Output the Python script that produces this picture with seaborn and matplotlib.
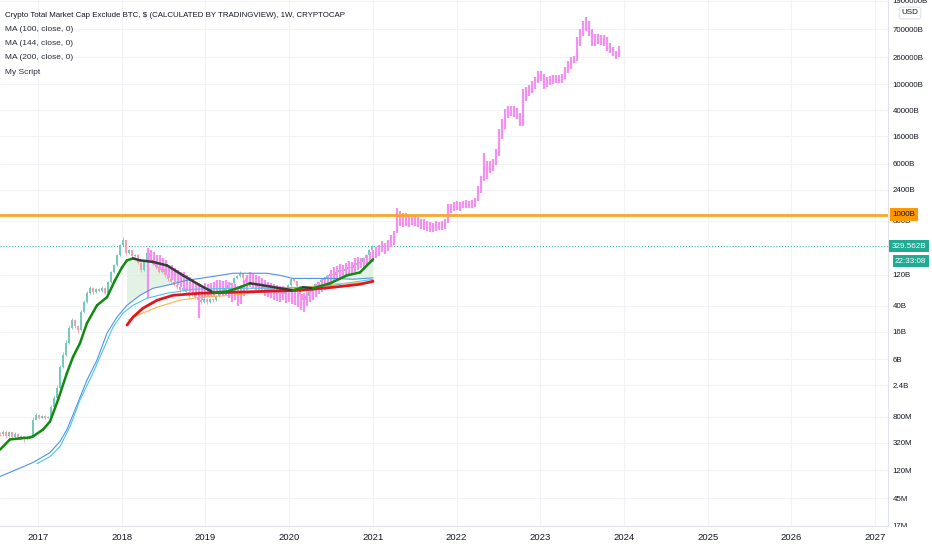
import numpy as np
import pandas as pd
import matplotlib
matplotlib.use("Agg")
import matplotlib.pyplot as plt
import seaborn as sns
from matplotlib.patches import Rectangle
from matplotlib.ticker import NullLocator

# --- candles (market cap, billions USD) ---
real_start = 2016.546
pink_start = 2018.314
bar_step = 0.03584  # years between drawn bars

real_first_open = 0.44
real_close = [0.425, 0.472, 0.397, 0.456, 0.383, 0.44, 0.37, 0.397, 0.357, 0.383,
              0.397, 0.718, 0.855, 0.770, 0.825, 0.770, 0.80, 1.13, 1.55, 2.20,
              4.61, 7.01, 10.7, 18.2, 24.1, 19.5, 16.9, 31.9, 45.3, 62.2,
              74.2, 64.4, 71.6, 66.7, 74.2, 62.2, 91.6, 130, 166, 237,
              336, 401, 254, 282, 228, 237, 179, 140, 185, 254,
              199, 172, 155, 130, 145, 117, 102, 91.6, 82.4, 76.8,
              69.1, 74.2, 64.4, 57.9, 62.2, 54.0, 48.6, 45.3, 50.3, 45.3,
              50.3, 48.6, 55.9, 62.2, 66.7, 71.6, 82.4, 88.4, 105, 113,
              126, 105, 91.6, 88.4, 82.4, 85.4, 76.8, 71.6, 76.8, 69.1,
              74.2, 66.7, 62.2, 64.4, 60.0, 69.1, 82.4, 102, 94.9, 79.6,
              60.0, 48.6, 55.9, 66.7, 74.2, 85.4, 91.6, 98.3, 102, 113,
              121, 117, 130, 140, 135, 145, 155, 150, 166, 179,
              185, 213, 237, 282, 325]
real_high = [.47, .50, .49, .48, .47, .46, .45, .42, .41, .40,
             .42, .78, .92, .89, .86, .84, .83, 1.2, 1.65, 2.4,
             5.0, 7.8, 12, 20, 26, 25, 20.5, 34, 49, 67,
             80, 77, 76, 74, 79, 76, 97, 138, 176, 250,
             360, 446, 410, 300, 290, 250, 245, 185, 195, 270,
             260, 205, 180, 160, 152, 150, 121, 105, 95, 85,
             79, 77, 76, 66, 64, 64, 56, 50, 52, 52,
             52, 52, 58, 64, 69, 74, 86, 92, 110, 118,
             135, 128, 107, 95, 90, 88, 87, 79, 79, 78,
             76, 75, 68, 66, 66, 71, 85, 106, 104, 96,
             81, 62, 58, 69, 77, 88, 95, 102, 106, 117,
             126, 124, 134, 145, 143, 150, 160, 158, 171, 185,
             192, 220, 245, 292, 345]
real_low = [.40, .41, .38, .39, .37, .37, .35, .36, .33, .35,
            .37, .39, .70, .74, .75, .74, .75, .78, 1.1, 1.5,
            2.1, 4.4, 6.8, 10.4, 17.5, 18, 15.5, 16.5, 31, 44,
            60, 61, 62, 64, 65, 60, 61, 88, 126, 160,
            230, 325, 240, 245, 220, 222, 172, 130, 136, 180,
            192, 165, 148, 125, 126, 112, 97, 88, 79, 73,
            66, 67, 62, 55, 56, 51, 46, 42, 44, 43,
            44, 46, 47, 54, 60, 64, 70, 80, 86, 102,
            110, 100, 88, 85, 79, 80, 74, 69, 70, 67,
            68, 64, 60, 61, 57, 59, 68, 80, 92, 77,
            57, 40, 47, 55, 65, 73, 84, 90, 96, 100,
            110, 114, 115, 128, 132, 133, 142, 147, 148, 163,
            176, 182, 208, 232, 275]

# "My Script" projection bars
pink_high = [303, 282, 263, 237, 237, 213, 199, 166, 166, 150,
             140, 130, 130, 117, 109, 98.3, 91.6, 88.4, 82.4, 88.4,
             85.4, 88.4, 91.6, 98.3, 98.3, 94.9, 98.3, 91.6, 88.4, 85.4,
             79.6, 82.4, 98.3, 117, 130, 126, 117, 113, 105, 98.3,
             91.6, 88.4, 85.4, 82.4, 79.6, 79.6, 74.2, 74.2, 69.1, 69.1,
             64.4, 60.0, 62.2, 64.4, 69.1, 76.8, 85.4, 91.6, 102, 109,
             117, 140, 155, 161, 172, 166, 179, 192, 185, 213,
             221, 213, 213, 237, 263, 282, 313, 336, 387, 361,
             401, 478, 570, 1240, 1150, 1070, 1040, 966, 1000, 966,
             932, 869, 869, 810, 782, 755, 810, 782, 810, 869,
             1470, 1470, 1580, 1640, 1580, 1640, 1690, 1640, 1690, 1820,
             2770, 3940, 8840, 6670, 6670, 7160, 10200, 20600, 29200, 41500,
             46100, 46100, 46100, 43000, 36100, 83900, 90000, 96600, 111000, 128000,
             158000, 158000, 142000, 128000, 133000, 137000, 137000, 137000, 142000, 182000,
             224000, 258000, 268000, 522000, 691000, 916000, 1054000, 916000, 691000, 580000,
             580000, 560000, 560000, 522000, 423000, 367000, 319000, 380000]
pink_low = [52.1, 185, 166, 150, 140, 130, 117, 105, 98.3, 91.6,
            82.4, 76.8, 69.1, 69.1, 64.4, 60.0, 55.9, 25.8, 48.6, 52.1,
            54.0, 55.9, 54.0, 60.0, 57.9, 55.9, 57.9, 52.1, 45.3, 48.6,
            39.3, 42.2, 55.9, 69.1, 76.8, 74.2, 69.1, 64.4, 62.2, 55.9,
            54.0, 52.1, 48.6, 46.9, 45.3, 48.6, 43.7, 45.3, 42.2, 40.7,
            38.0, 34.2, 31.9, 39.3, 45.3, 48.6, 54.0, 60.0, 64.4, 69.1,
            74.2, 82.4, 91.6, 98.3, 105, 109, 113, 117, 121, 130,
            140, 150, 140, 161, 172, 185, 213, 228, 263, 245,
            272, 313, 336, 531, 679, 656, 679, 656, 704, 679,
            656, 611, 590, 570, 550, 550, 570, 590, 590, 611,
            755, 1070, 1150, 1190, 1150, 1240, 1240, 1240, 1280, 1330,
            1640, 2170, 3300, 3550, 4380, 4700, 5800, 7960, 14500, 20600,
            30300, 32500, 31300, 29200, 22800, 22800, 55000, 65600, 72900, 83900,
            104000, 111000, 83900, 90000, 96600, 100000, 104000, 104000, 104000, 119000,
            147000, 170000, 209000, 224000, 380000, 541000, 645000, 541000, 380000, 380000,
            408000, 394000, 380000, 319000, 297000, 268000, 241000, 258000]

# --- moving averages ---
green_x = [2016.546, 2016.665, 2016.785, 2016.904, 2016.940, 2017.060, 2017.143, 2017.239,
           2017.346, 2017.418, 2017.502, 2017.585, 2017.705, 2017.824, 2017.920, 2018.004,
           2018.063, 2018.135, 2018.219, 2018.374, 2018.541, 2018.732, 2018.935, 2019.091,
           2019.258, 2019.413, 2019.533, 2019.688, 2019.891, 2020.047, 2020.166, 2020.286,
           2020.489, 2020.692, 2020.847, 2021.002]
green_v = [0.249, 0.357, 0.37, 0.383, 0.397, 0.506, 0.670, 1.44,
           3.73, 6.56, 10.7, 21.7, 40.7, 54.0, 98.3, 155,
           199, 213, 199, 188, 166, 117, 82.4, 64.4,
           66.0, 76.8, 88.4, 82.4, 74.2, 69.1, 76.8, 74.2,
           88.4, 117, 130, 206]

blue_x = [2016.546, 2016.749, 2016.940, 2017.143, 2017.263, 2017.346, 2017.466, 2017.585,
          2017.705, 2017.824, 2017.944, 2018.063, 2018.219, 2018.374, 2018.541, 2018.780,
          2019.019, 2019.330, 2019.736, 2019.891, 2020.047, 2020.286, 2020.524, 2020.763,
          2021.002]
blue_v = [0.0966, 0.124, 0.158, 0.224, 0.333, 0.506, 1.21, 2.91,
          5.89, 15.2, 26.8, 40.7, 57.9, 74.2, 82.4, 98.3,
          109, 126, 126, 117, 105, 105, 105, 102,
          107]

cyan_x = [2016.988, 2017.143, 2017.263, 2017.382, 2017.502, 2017.657, 2017.777, 2017.896,
          2018.015, 2018.135, 2018.302, 2018.541, 2018.852, 2019.330, 2019.736, 2020.130,
          2020.524, 2021.002]
cyan_v = [0.152, 0.195, 0.277, 0.56, 1.44, 3.73, 8.36, 18.8,
          30.8, 40.7, 52.1, 62.2, 71.6, 74.2, 74.2, 76.8,
          82.4, 102]

red_x = [2018.063, 2018.135, 2018.254, 2018.422, 2018.613, 2018.935, 2019.330, 2019.736,
         2020.130, 2020.524, 2020.847, 2021.002]
red_v = [20.2, 26.8, 36.7, 48.6, 57.9, 62.2, 64.4, 66.7,
         69.1, 76.8, 85.4, 94.9]

orange_x = [2018.075, 2018.219, 2018.422, 2018.696, 2018.935, 2019.330, 2019.736, 2020.130,
            2020.453, 2020.692, 2021.002]
orange_v = [24.1, 29.7, 38.0, 48.6, 54.0, 57.9, 66.7, 74.2,
            85.4, 88.4, 91.6]

level_line = 1000
last_price = 329.562
countdown = "22:33:08"

years = list(range(2017, 2028))
ytick_values = [1.9e6, 7e5, 2.6e5, 1e5, 4e4, 1.6e4, 6000, 2400, 800, 320,
                120, 40, 16, 6, 2.4, 0.8, 0.32, 0.12, 0.045, 0.017]
ytick_labels = ["1900000B", "700000B", "260000B", "100000B", "40000B", "16000B",
                "6000B", "2400B", "800B", "", "120B", "40B", "16B", "6B",
                "2.4B", "800M", "320M", "120M", "45M", "17M"]

legend_lines = ["Crypto Total Market Cap Exclude BTC, $ (CALCULATED BY TRADINGVIEW), 1W, CRYPTOCAP",
                "MA (100, close, 0)", "MA (144, close, 0)", "MA (200, close, 0)", "My Script"]

sns.set_theme(style="white")
plt.rcParams["font.family"] = ["Liberation Sans", "DejaVu Sans"]

fig = plt.figure(figsize=(9.32, 5.5), dpi=100)
ax = fig.add_axes([0, 24 / 550, 888 / 932, 526 / 550])
ax.set_yscale("log")

# candles
r_close = np.array(real_close)
r_open = np.array([real_first_open] + real_close[:-1])
xr = real_start + bar_step * np.arange(len(real_close))
up = r_close >= r_open
cols = np.where(up, "#74c9bc", "#f0a1a9")
ax.vlines(xr, real_low, real_high, colors=cols, lw=0.6, zorder=2)
ax.vlines(xr, np.minimum(r_open, r_close), np.maximum(r_open, r_close), colors=cols, lw=1.4, zorder=2)

xp = pink_start + bar_step * np.arange(len(pink_high))
ax.vlines(xp, pink_low, pink_high, colors="#f291ef", lw=1.6, zorder=3)

# fill between fast MA and the blue MA
gx = np.array(green_x)
gv = np.array(green_v)
m = gx >= 2018.06
gb = 10 ** np.interp(gx[m], blue_x, np.log10(blue_v))
ax.fill_between(gx[m], gv[m], gb, where=gv[m] > gb, interpolate=True,
                color="#cfe9d0", alpha=0.55, lw=0, zorder=1)

ma_df = pd.concat([
    pd.DataFrame({"year": blue_x, "value": blue_v, "line": "blue"}),
    pd.DataFrame({"year": cyan_x, "value": cyan_v, "line": "cyan"}),
    pd.DataFrame({"year": orange_x, "value": orange_v, "line": "orange"}),
    pd.DataFrame({"year": red_x, "value": red_v, "line": "red"}),
])
sns.lineplot(data=ma_df, x="year", y="value", hue="line", size="line",
             palette={"blue": "#4f94e3", "cyan": "#4cc6e8", "orange": "#f5b546", "red": "#e3161b"},
             sizes={"blue": 0.8, "cyan": 0.8, "orange": 0.8, "red": 2.0},
             estimator=None, sort=False, legend=False, ax=ax, zorder=4)

# fast MA coloured by direction
for i in range(len(gx) - 1):
    c = "#118a11" if gv[i + 1] >= gv[i] else "#3b3b3b"
    ax.plot(gx[i:i + 2], gv[i:i + 2], color=c, lw=1.8, solid_capstyle="round", zorder=5)

ax.axhline(level_line, color="#f9a72b", lw=2.0, zorder=6)
ax.axhline(last_price, color="#26a69a", lw=0.7, ls=(0, (1, 2)), zorder=1)

ax.set_xlim(2016.546, 2027.155)
ax.set_ylim(0.0168, 1.95e6)
ax.yaxis.tick_right()
ax.set_yticks(ytick_values)
ax.set_yticklabels(ytick_labels)
ax.yaxis.set_minor_locator(NullLocator())
ax.set_xticks(years)
ax.set_xticklabels([str(y) for y in years])
ax.tick_params(axis="y", length=0, pad=3.5, labelsize=5.7, colors="#131722")
ax.tick_params(axis="x", length=0, pad=5, labelsize=6.8, colors="#131722")
ax.set_xlabel("")
ax.set_ylabel("")
ax.grid(True, color="#f1f3f6", lw=0.8)
for s in ["left", "top"]:
    ax.spines[s].set_visible(False)
for s in ["right", "bottom"]:
    ax.spines[s].set_color("#e0e3eb")
    ax.spines[s].set_linewidth(0.8)

# price-axis labels
yt = ax.get_yaxis_transform()
ax.text(1.005, level_line, "1000B", transform=yt, ha="left", va="center", fontsize=5.8,
        color="#131722", zorder=10, clip_on=False,
        bbox=dict(boxstyle="square,pad=0.35", fc="#ff9800", ec="none"))
ax.text(1.004, last_price, "329.562B", transform=yt, ha="left", va="center", fontsize=5.8,
        color="white", zorder=10, clip_on=False,
        bbox=dict(boxstyle="square,pad=0.35", fc="#22ab94", ec="none"))
ax.annotate(countdown, xy=(1.0, last_price), xycoords=yt, xytext=(5.0, -11.0),
            textcoords="offset points", ha="left", va="center", fontsize=5.8,
            color="white", zorder=10, annotation_clip=False,
            bbox=dict(boxstyle="square,pad=0.3", fc="#22ab94", ec="none"))

fig.text(910 / 932, 1 - 13 / 550, "USD", ha="center", va="center", fontsize=5.8, color="#131722",
         bbox=dict(boxstyle="round,pad=0.3", fc="white", ec="#e0e3eb", lw=0.8))

fig.add_artist(Rectangle((888.5 / 932, 0), 44 / 932, 23.5 / 550, transform=fig.transFigure,
                         fc="white", ec="none", zorder=10))

legend_y = [15.5, 29.3, 43.3, 58.0, 72.5]
for i, (txt, yy) in enumerate(zip(legend_lines, legend_y)):
    ax.text(5 / 888, 1 - yy / 526, txt, transform=ax.transAxes, ha="left", va="center",
            fontsize=5.7 if i == 0 else 6.0, color="#131722" if i == 0 else "#2a2e39",
            fontweight="medium" if i == 0 else "normal", zorder=10)

fig.savefig("out.png", dpi=100, facecolor="white")
